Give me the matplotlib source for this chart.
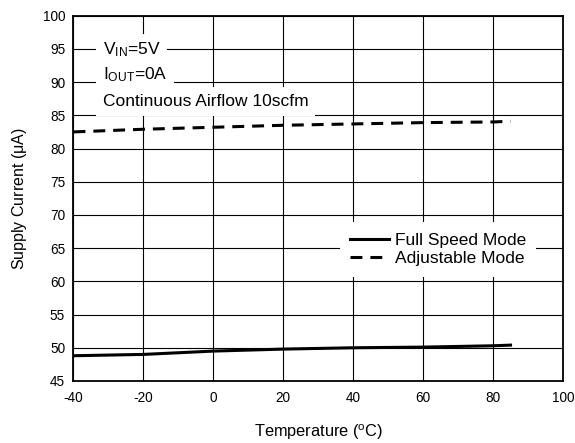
import matplotlib
matplotlib.use('Agg')
import matplotlib.pyplot as plt

plt.rcParams['font.family'] = ['Liberation Sans', 'DejaVu Sans']
plt.rcParams['mathtext.fontset'] = 'custom'
plt.rcParams['mathtext.rm'] = 'Liberation Sans'
plt.rcParams['mathtext.it'] = 'Liberation Sans'
plt.rcParams['axes.unicode_minus'] = False

# data
temp = [-40, -20, 0, 20, 40, 60, 80, 85]
full_speed = [48.8, 49.0, 49.5, 49.8, 50.0, 50.1, 50.3, 50.4]
adjustable = [82.5, 82.9, 83.2, 83.5, 83.7, 83.9, 84.0, 84.1]

x_ticks = [-40, -20, 0, 20, 40, 60, 80, 100]
y_ticks = list(range(45, 101, 5))

fig = plt.figure(figsize=(5.75, 4.43), dpi=100)
ax = fig.add_axes([0.1278, 0.140, 0.8513, 0.8246])

ax.plot(temp, full_speed, color='black', lw=2.2, label='Full Speed Mode')
ax.plot(temp, adjustable, color='black', lw=2.2, ls=(0, (3.9, 2.6)), label='Adjustable Mode')

ax.set_xlim(-40, 100)
ax.set_ylim(45, 100)
ax.set_xticks(x_ticks)
ax.set_yticks(y_ticks)
ax.grid(True, color='black', lw=0.8)
ax.tick_params(length=0, labelsize=9.8)
ax.tick_params(axis='x', pad=7)
ax.tick_params(axis='y', pad=6)
for s in ax.spines.values():
    s.set_linewidth(1.3)

ax.set_xlabel('Temperature ($^\\mathrm{o}$C)', fontsize=11.8, labelpad=13)
ax.set_ylabel('Supply Current ($\\mu$A)', fontsize=11.5, labelpad=10)

# condition notes, white boxes hide the grid behind them
box = dict(facecolor='white', edgecolor='none', pad=5)
ax.text(-31.6, 94.15, 'V$_{\\mathrm{IN}}$=5V', fontsize=12.5, va='baseline', bbox=box)
ax.text(-31.6, 90.45, 'I$_{\\mathrm{OUT}}$=0A', fontsize=12.5, va='baseline', bbox=box)
ax.text(-31.6, 86.35, 'Continuous Airflow 10scfm', fontsize=12.5, va='baseline', bbox=box)

leg = ax.legend(loc='upper left', bbox_to_anchor=(0.5444, 0.435), frameon=True,
                fontsize=12.5, handlelength=2.2, handletextpad=0.35,
                borderpad=0.6, labelspacing=0.2, borderaxespad=0)
leg.get_frame().set_edgecolor('none')
leg.get_frame().set_facecolor('white')
leg.get_frame().set_alpha(1)
leg.get_frame().set_boxstyle('square', pad=0)

fig.savefig('out.png', dpi=100)
